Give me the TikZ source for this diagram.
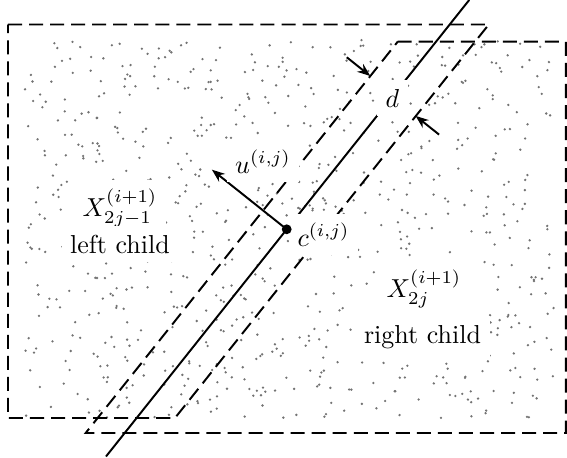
\documentclass[tikz,border=0pt]{standalone}
\usetikzlibrary{arrows.meta}
\begin{document}
\begin{tikzpicture}[x=0.385pt,y=-0.385pt,
  region/.style={draw,line width=0.75pt,dash pattern=on 5.4pt off 2.7pt},
  sepline/.style={draw,line width=0.75pt},
  arr/.style={-{Stealth[length=5pt,width=3.8pt]},line width=0.75pt},
  lbl/.style={fill=white,inner sep=3.3pt,anchor=base},
  pt/.style={fill=black!55}]
\useasboundingbox (0,0) rectangle (567,458);
% scattered data points
\pgfmathsetseed{7}
\foreach \k in {1,...,800}{\fill[pt] ({25+530*rnd},{40+378*rnd}) circle[radius=0.5pt];}
% coordinates
\coordinate (c) at (286.7,229.3);
\coordinate (LT) at (469.2,0);
\coordinate (LB) at (106,456.5);
\coordinate (L1) at (8,24.5);
\coordinate (L2) at (488.8,24.5);
\coordinate (L3) at (175,418);
\coordinate (L4) at (8,418);
\coordinate (R1) at (397.7,41.7);
\coordinate (R2) at (565.8,41.7);
\coordinate (R3) at (565.8,433);
\coordinate (R4) at (85.7,433);
\coordinate (ut) at (211.9,169.7);
\coordinate (dla) at (346.8,57.3);
\coordinate (dlb) at (370.3,76);
\coordinate (dra) at (439.1,134.6);
\coordinate (drb) at (415.6,115.9);
% regions
\draw[region] (L1) -- (L2) -- (L3) -- (L4) -- cycle;
\draw[region] (R1) -- (R2) -- (R3) -- (R4) -- cycle;
% separating hyperplane
\draw[sepline] (LB) -- (LT);
% arrows
\draw[arr] (c) -- (ut);
\draw[arr] (dla) -- (dlb);
\draw[arr] (dra) -- (drb);
% labels
\node[lbl] (dlab) at (392.5,107) {$d$};
\node[lbl] (ulab) at (263,173) {$u^{(i,j)}$};
\node[lbl] (clab) at (323.5,246) {$c^{(i,j)}$};
\node[lbl] (xl) at (120,216) {$X_{2j-1}^{(i+1)}$};
\node[lbl] (lc) at (120,253) {left child};
\node[lbl] (xr) at (424,297) {$X_{2j}^{(i+1)}$};
\node[lbl] (rc) at (422.5,343) {right child};
\fill (c) circle[radius=1.9pt];
\end{tikzpicture}
\end{document}
